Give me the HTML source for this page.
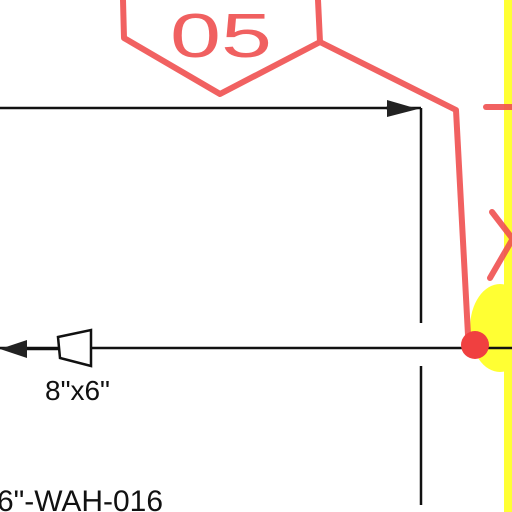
<!DOCTYPE html>
<html><head><meta charset="utf-8"><style>
html,body{margin:0;padding:0;background:#fff;width:512px;height:512px;overflow:hidden}
svg{display:block}
text{font-family:"Liberation Sans",sans-serif}
</style></head><body>
<svg width="512" height="512" viewBox="0 0 512 512">
  <rect x="504" y="0" width="8" height="512" fill="#ffff33"/>
  <ellipse cx="500" cy="328" rx="30" ry="44" fill="#ffff33"/>
  <g stroke="#111" stroke-width="2.5" fill="none">
    <line x1="0" y1="108" x2="400" y2="108"/>
    <line x1="421" y1="108" x2="421" y2="323"/>
    <line x1="0" y1="348" x2="512" y2="348"/>
    <line x1="421" y1="366" x2="421" y2="505"/>
    <line x1="386" y1="108" x2="421" y2="108"/>
  </g>
  <polygon points="387,100 387,117 418,109" fill="#222"/>
  <polygon points="0,349 27,340 27,358" fill="#222"/>
  <polygon points="58,337 91,330 91,366 60,358" fill="#fff" stroke="#111" stroke-width="2.5"/>
  <line x1="27" y1="349" x2="58" y2="349" stroke="#111" stroke-width="2.5"/>
  <text x="45" y="400" font-size="28" textLength="65" lengthAdjust="spacingAndGlyphs" fill="#111">8"x6"</text>
  <text x="-3" y="511" font-size="30" textLength="166" lengthAdjust="spacingAndGlyphs" fill="#111">6"-WAH-016</text>
  <g stroke="#f05050" stroke-width="6" fill="none" stroke-linecap="round" stroke-linejoin="round" opacity="0.9">
    <polyline points="123,0 124,38 220,94 320,42 318,0"/>
    <polyline points="320,42 456,110 468,335"/>
    <line x1="486" y1="107" x2="512" y2="107"/>
    <line x1="492" y1="212" x2="512" y2="238"/>
    <line x1="512" y1="240" x2="490" y2="278"/>
  </g>
  <text x="170" y="57" font-size="62" textLength="102" lengthAdjust="spacingAndGlyphs" fill="#f06060">05</text>
  <circle cx="475" cy="345" r="14" fill="#f04040"/>
</svg>
</body></html>
